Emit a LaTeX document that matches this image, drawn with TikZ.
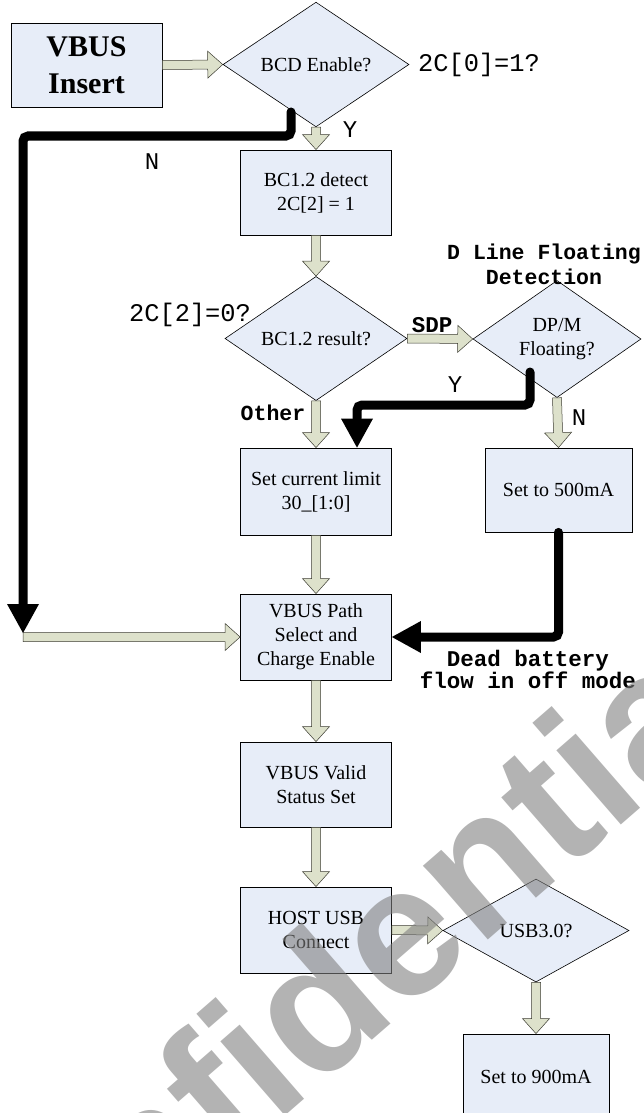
\documentclass[tikz,border=0pt]{standalone}
\usepackage{fontspec}
\setmainfont{Liberation Serif}
\newfontfamily\cnmono{Liberation Mono}
\newfontfamily\wmfont{Liberation Sans}
\usetikzlibrary{shapes.geometric,arrows.meta,calc}
\definecolor{boxfill}{RGB}{231,237,248}
\definecolor{arrfill}{RGB}{221,225,203}
\definecolor{arrline}{RGB}{60,60,50}

\begin{document}
\begin{tikzpicture}[x=1pt,y=-1pt,
  box/.style={draw, rectangle, fill=boxfill, align=center, line width=0.8pt,
    minimum width=151pt, minimum height=86pt, inner sep=0pt,
    font=\fontsize{20}{24}\selectfont},
  dec/.style={draw, diamond, fill=boxfill, align=center, line width=0.6pt,
    inner sep=0pt, font=\fontsize{20}{24}\selectfont},
  lbl/.style={font=\cnmono\fontsize{24}{26}\selectfont},
  blbl/.style={font=\cnmono\bfseries\fontsize{21.5}{25}\selectfont, align=center},
  blk/.style={line width=9pt, rounded corners=5pt, line cap=round,
    -{Triangle[width=32pt,length=29pt,line width=0pt]}},
  hol/.style={draw=arrline, fill=arrfill, line width=0.5pt,
    to path={let \p1=(\tikztostart), \p2=(\tikztotarget),
      \n1={atan2(\y2-\y1,\x2-\x1)}, \n2={veclen(\x2-\x1,\y2-\y1)-15pt} in
      ($(\p1)+(\n1+90:4.5pt)$) -- ++(\n1:\n2) -- ++(\n1+90:9pt) -- (\p2)
      -- ($(\p1)+(\n1:\n2)+(\n1-90:13.5pt)$) -- ++(\n1+90:9pt)
      -- ($(\p1)+(\n1-90:4.5pt)$) -- cycle}},
  wm/.style={font=\wmfont\bfseries\fontsize{186}{186}\selectfont,
    text=black!50, opacity=0.6, inner sep=0pt}]
\useasboundingbox (0,0) rectangle (643,1113);

% main column
\node[box, minimum height=84pt, font=\bfseries\fontsize{30}{37}\selectfont] (vbus) at (86.5,65) {VBUS\\Insert};
\node[dec, minimum width=186pt, minimum height=103pt] (bcd) at (316,64.5) {BCD Enable?};
\node[box, minimum height=85pt] (bc) at (316,192.5) {BC1.2 detect\\2C[2] = 1};
\node[dec, minimum width=182pt, minimum height=103pt] (res) at (316,338.5) {BC1.2 result?};
\node[dec, minimum width=168pt, minimum height=102pt] (dpm) at (557,339) {DP/M\\Floating?};
\node[box, minimum height=87pt] (cur) at (316,491.5) {Set current limit\\30\_[1:0]};
\node[box, minimum width=147pt, minimum height=84pt] (s500) at (558.5,490) {Set to 500mA};
\node[box] (vpath) at (316,637) {VBUS Path\\Select and\\Charge Enable};
\node[box, minimum height=85pt] (valid) at (316,784.5) {VBUS Valid\\Status Set};
\node[box] (host) at (316,930) {HOST USB\\Connect};
\node[dec, minimum width=186pt, minimum height=103pt] (usb3) at (536,930.5) {USB3.0?};
\node[box, minimum width=146pt] (s900) at (536,1077) {Set to 900mA};

% labels
\node[lbl, font=\cnmono\fontsize{25.4}{27}\selectfont] (c0) at (479,65) {2C[0]=1?};
\node[lbl] (ybcd) at (350,130) {Y};
\node[lbl] (nbcd) at (152,162) {N};
\node[lbl, font=\cnmono\fontsize{25.4}{27}\selectfont] (c2) at (190,315) {2C[2]=0?};
\node[blbl, font=\cnmono\bfseries\fontsize{22.5}{25}\selectfont] (sdp) at (432,325) {SDP};
\node[blbl] (dline) at (544,264.5) {D Line Floating\\Detection};
\node[lbl] (ydpm) at (455,385) {Y};
\node[blbl] (other) at (273,413) {Other};
\node[lbl] (ndpm) at (579,418) {N};
\node[blbl, font=\cnmono\bfseries\fontsize{22.5}{22}\selectfont] (dead) at (528,669) {Dead battery\\flow in off mode};

% hollow arrows
\draw[hol] (vbus.east) to (bcd.west);
\draw[hol] (bcd.south) to (bc.north);
\draw[hol] (bc.south) to (res.north);
\draw[hol] (res.east) to (dpm.west);
\draw[hol] (res.south) to (cur.north);
\draw[hol] (dpm.south) to (s500.north);
\draw[hol] (cur.south) to (vpath.north);
\draw[hol] (vpath.south) to (valid.north);
\draw[hol] (valid.south) to (host.north);
\draw[hol] (host.east) to (usb3.west);
\draw[hol] (usb3.south) to (s900.north);

% thick black paths
\coordinate (nstart) at (291,112);
\coordinate (nbend) at (23,136);
\coordinate (ntip) at (23,633);
\coordinate (ystart) at (530,372);
\coordinate (ybend) at (357,405);
\draw[hol] (ntip |- vpath.west) to (vpath.west);
\draw[blk] (nstart) |- (nbend) -- (ntip);
\draw[blk] (ystart) |- (ybend) -- (ybend |- cur.north);
\draw[blk] (s500.south) |- (vpath.east);

% watermark
\node[wm, rotate=41] (wmark) at (318,1000) {Confidential};
\end{tikzpicture}
\end{document}
